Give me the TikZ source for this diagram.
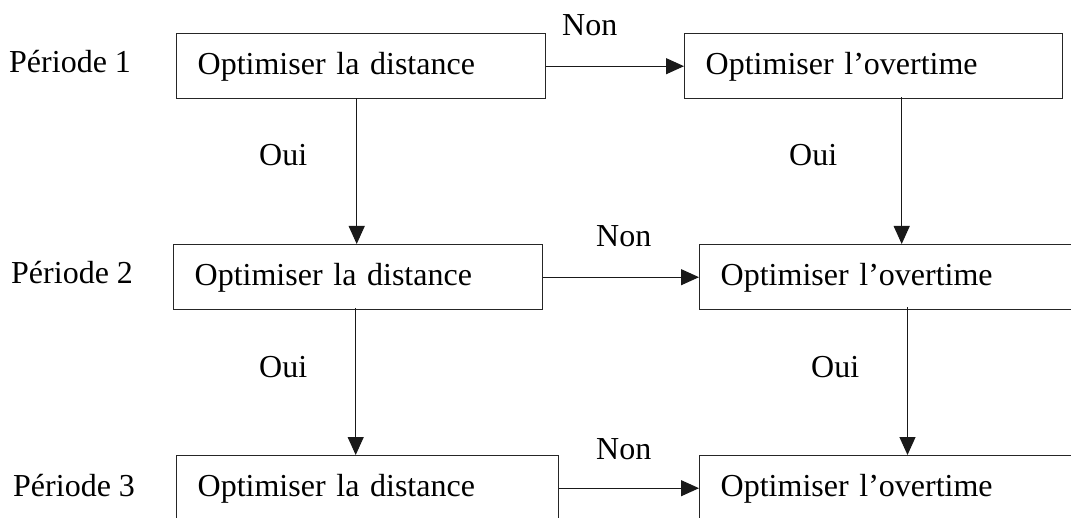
\documentclass[tikz,border=0pt]{standalone}
\usepackage{fontspec}
\setmainfont{Liberation Serif}
\usetikzlibrary{arrows.meta,calc}
\begin{document}
\begin{tikzpicture}[x=1pt,y=-1pt,
  every node/.style={font=\fontsize{32}{38}\selectfont},
  box/.style={draw=black!85,line width=1.4pt,rectangle,minimum height=65pt,
    inner xsep=21pt,inner ysep=0pt,anchor=north west,text depth=7pt,text height=23pt,align=left},
  lbl/.style={anchor=base west,inner sep=0pt},
  conn/.style={line width=1.1pt,draw=black!90,-{Triangle[length=18pt,width=16pt]}}]
\useasboundingbox (0,0) rectangle (1071,518);
\clip (0,0) rectangle (1071,518);
% boxes
\node[box,minimum width=369pt,text width=327pt] (A1) at (176,33) {Optimiser la distance};
\node[box,minimum width=378pt,text width=336pt] (B1) at (684,33) {Optimiser l’overtime};
\node[box,minimum width=369pt,text width=327pt] (A2) at (173,244) {Optimiser la distance};
\node[box,minimum width=420pt,text width=378pt] (B2) at (699,244) {Optimiser l’overtime};
\node[box,minimum width=382pt,text width=340pt] (A3) at (176,455) {Optimiser la distance};
\node[box,minimum width=420pt,text width=378pt] (B3) at (699,455) {Optimiser l’overtime};
% period labels
\node[lbl] (P1) at (9,73) {Période 1};
\node[lbl] (P2) at (11,284) {Période 2};
\node[lbl] (P3) at (13,496) {Période 3};
% Non labels
\node[lbl] (N1) at (562,36) {Non};
\node[lbl] (N2) at (596,247) {Non};
\node[lbl] (N3) at (596,459) {Non};
% Oui labels
\node[lbl] (O1) at (259,166) {Oui};
\node[lbl] (O2) at (789,166) {Oui};
\node[lbl] (O3) at (259,378) {Oui};
\node[lbl] (O4) at (811,378) {Oui};
% horizontal connectors
\draw[conn] (A1.east) -- (B1.west);
\draw[conn] (A2.east) -- (B2.west);
\draw[conn] (A3.east) -- (B3.west);
% vertical connectors
\draw[conn] ([xshift=-4.5pt,yshift=1pt]A1.south) -- ([xshift=-4.5pt]A1.south |- A2.north);
\draw[conn] ([xshift=-2.5pt,yshift=2pt]A2.south) -- ([xshift=-2.5pt]A2.south |- A3.north);
\draw[conn] ([xshift=28pt,yshift=2pt]B1.south) -- ([xshift=28pt]B1.south |- B2.north);
\draw[conn] ([xshift=208.5pt,yshift=3pt]B2.south west) -- ([xshift=208.5pt]B2.south west |- B3.north);
\end{tikzpicture}
\end{document}
